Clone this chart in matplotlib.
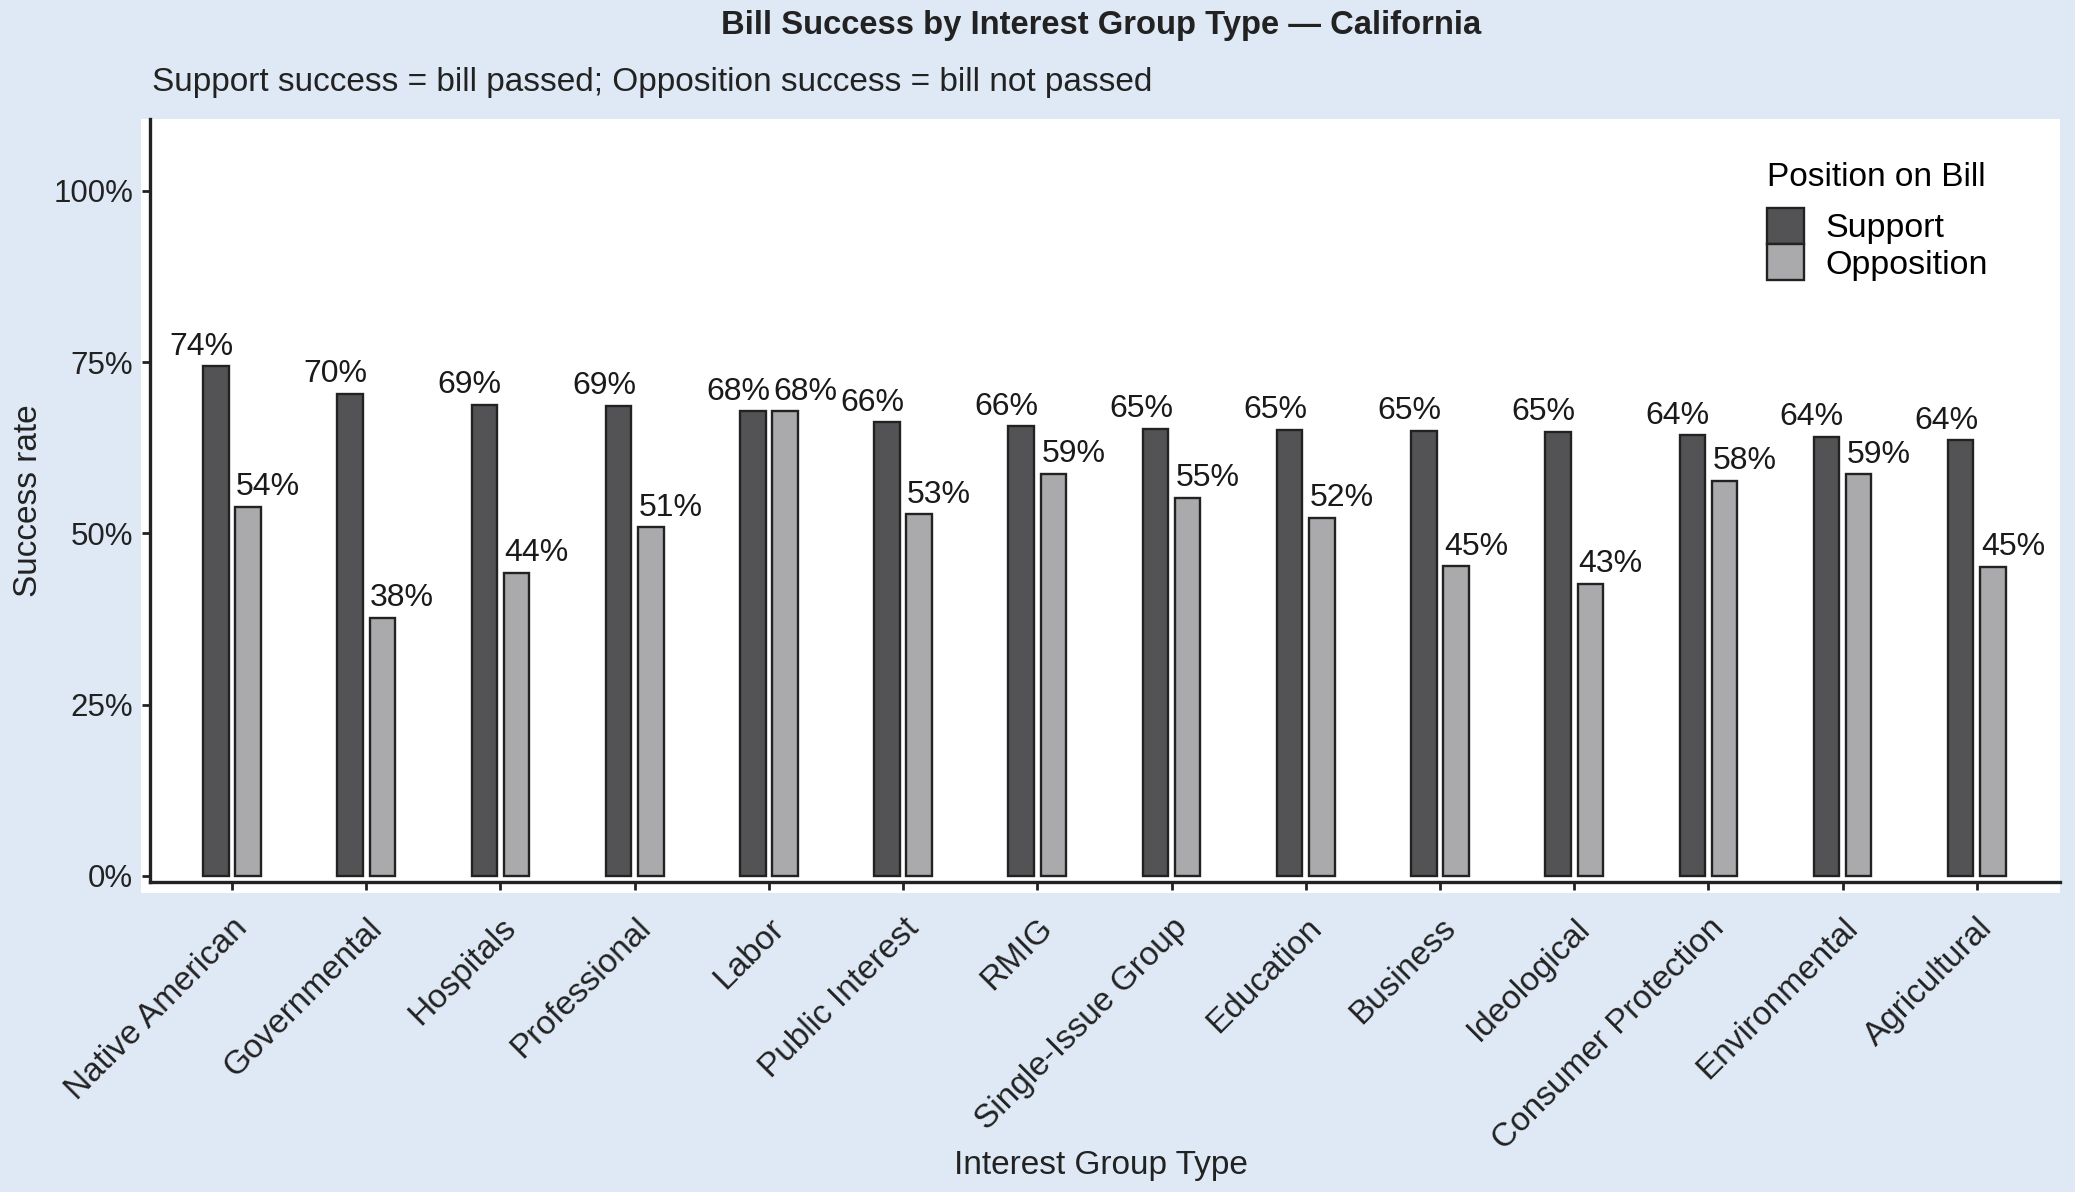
import numpy as np
import matplotlib
matplotlib.use('Agg')
import matplotlib.pyplot as plt
from matplotlib.patches import Patch, Rectangle

# data (success rate, %)
groups = ['Native American', 'Governmental', 'Hospitals', 'Professional', 'Labor',
          'Public Interest', 'RMIG', 'Single-Issue Group', 'Education', 'Business',
          'Ideological', 'Consumer Protection', 'Environmental', 'Agricultural']
support = [74.4, 70.4, 68.8, 68.6, 67.8, 66.2, 65.6, 65.3, 65.1, 65.0, 64.8, 64.3, 64.1, 63.6]
opposition = [53.9, 37.7, 44.2, 50.9, 67.8, 52.8, 58.7, 55.2, 52.3, 45.2, 42.6, 57.7, 58.6, 45.1]
yticks = [0, 25, 50, 75, 100]
ytick_labels = ['0%', '25%', '50%', '75%', '100%']

bg = '#dee9f5'
c_sup = '#535355'
c_opp = '#aaaaac'
edge = '#222222'

plt.rcParams['font.family'] = ['Liberation Sans', 'DejaVu Sans']

fig = plt.figure(figsize=(20.75, 11.92), dpi=100, facecolor=bg)

# white panel, a bit wider than the axes (like the original)
fig.patches.append(Rectangle((0.068, 0.2508), 0.9248, 0.6493, transform=fig.transFigure,
                             facecolor='white', edgecolor='none', zorder=-10))

ax = fig.add_axes([0.0723, 0.2601, 0.9205, 0.6401])
ax.set_zorder(2)
ax.set_facecolor('white')

x = np.arange(len(groups))
w = 0.19
off = 0.12
ax.bar(x - off, support, w, color=c_sup, edgecolor=edge, linewidth=1.7, label='Support', zorder=3)
ax.bar(x + off, opposition, w, color=c_opp, edgecolor=edge, linewidth=1.7, label='Opposition', zorder=3)

# value labels
for i in range(len(groups)):
    ax.text(x[i] + 0.01, support[i] + 1.7, '%d%%' % round(support[i]), ha='right', va='baseline',
            fontsize=23, color='#1a1a1a')
    ax.text(x[i] + 0.03, opposition[i] + 1.7, '%d%%' % round(opposition[i]), ha='left', va='baseline',
            fontsize=23, color='#1a1a1a')

ax.set_xlim(-0.611, 13.62)
ax.set_ylim(-0.9, 110.5)
ax.set_yticks(yticks)
ax.set_yticklabels(ytick_labels, fontsize=22.5, color='#222222')
ax.set_xticks(x)
ax.set_xticklabels(groups, rotation=45, ha='right', rotation_mode='anchor', fontsize=24,
                   color='#222222')

for s in ['top', 'right']:
    ax.spines[s].set_visible(False)
for s in ['left', 'bottom']:
    ax.spines[s].set_linewidth(2.4)
    ax.spines[s].set_color('#222222')
ax.tick_params(axis='both', length=6, width=2, color='#222222', pad=6)
ax.tick_params(axis='x', pad=16)

ax.set_ylabel('Success rate', fontsize=24, color='#222222', labelpad=7)
fig.text(0.5306, 0.022, 'Interest Group Type', ha='center', va='center', fontsize=24,
         color='#222222')

fig.text(0.5306, 0.979, 'Bill Success by Interest Group Type \u2014 California', ha='center',
         va='center', fontsize=23.6, fontweight='bold', color='#222222')
fig.text(0.0733, 0.931, 'Support success = bill passed; Opposition success = bill not passed',
         ha='left', va='center', fontsize=24, color='#222222')

handles = [Patch(facecolor=c_sup, edgecolor=edge, linewidth=1.7),
           Patch(facecolor=c_opp, edgecolor=edge, linewidth=1.7)]
leg = ax.legend(handles, ['Support', 'Opposition'], title='Position on Bill', loc='upper left',
                bbox_to_anchor=(1767 / 2075, 1 - 162 / 1192), bbox_transform=fig.transFigure,
                frameon=False, fontsize=24.5, title_fontsize=24, handlelength=1.1, handleheight=1.22,
                labelspacing=0.0, handletextpad=0.62, borderpad=0, borderaxespad=0)
leg._legend_box.align = 'left'
leg._legend_box.sep = 11

plt.savefig('out.png', dpi=100, facecolor=bg)
